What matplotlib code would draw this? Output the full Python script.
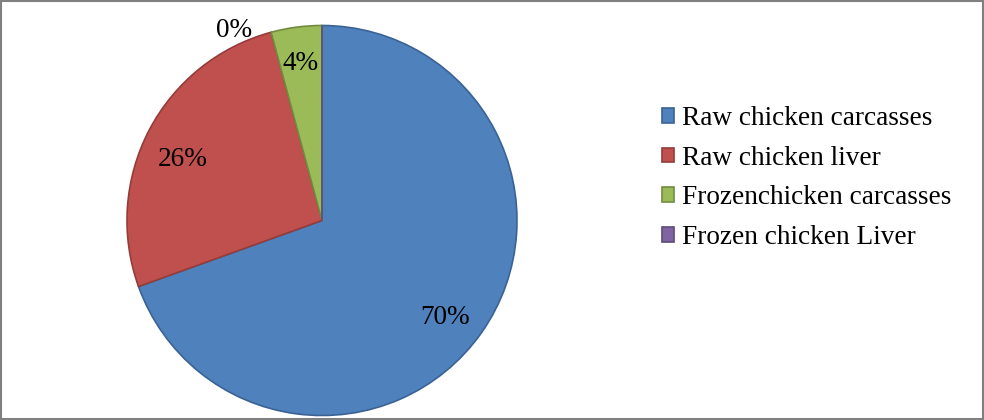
import matplotlib
matplotlib.use("Agg")
import matplotlib.pyplot as plt
from matplotlib.patches import Rectangle
import numpy as np

categories = ["Raw chicken carcasses", "Raw chicken liver", "Frozenchicken carcasses", "Frozen chicken Liver"]
values = [69.5, 26.3, 4.2, 0]
pct_labels = ["70%", "26%", "4%", "0%"]
fill_colors = ["#4F81BD", "#C0504D", "#9BBB59", "#8064A2"]
edge_colors = ["#3A6294", "#943C3A", "#718C40", "#5E4A7A"]

plt.rcParams['font.family'] = ['Liberation Serif', 'DejaVu Serif']

W, H = 984, 420
fig = plt.figure(figsize=(W / 100, H / 100), dpi=100)

cx, cy, r = 322, 220.5, 195
ax = fig.add_axes([(cx - r) / W, (H - cy - r) / H, 2 * r / W, 2 * r / H])
wedges, _ = ax.pie(values, startangle=90, counterclock=False, radius=1,
                   colors=fill_colors, wedgeprops=dict(linewidth=1.2))
for w, ec in zip(wedges, edge_colors):
    w.set_edgecolor(ec)
ax.set_xlim(-1, 1)
ax.set_ylim(-1, 1)
ax.set_aspect('equal')
ax.axis('off')

label_angle_shift = [-2.0, 2.5, 0.0, 0.0]
dists = [0.79, 0.79, 0.83, 1.09]
for w, d, v, lab, sh in zip(wedges, dists, values, pct_labels, label_angle_shift):
    ang = np.deg2rad((w.theta1 + w.theta2) / 2 + sh)
    if v == 0:
        ang = np.deg2rad(114.4)
    ax.text(d * np.cos(ang), d * np.sin(ang) - 0.02, lab,
            ha='center', va='center', fontsize=19.6, color='black')

handles = [Rectangle((0, 0), 1, 1, facecolor=fc, edgecolor=ec, linewidth=1.2)
           for fc, ec in zip(fill_colors, edge_colors)]
fig.legend(handles, categories, loc='center left', bbox_to_anchor=(662 / W, 1 - 178 / H),
           frameon=False, fontsize=19.6, handlelength=0.45, handleheight=0.45,
           handletextpad=0.3, labelspacing=0.54, borderpad=0, borderaxespad=0)

fig.add_artist(Rectangle((0.001, 0.002), 0.998, 0.996, transform=fig.transFigure,
                         fill=False, edgecolor='#808080', linewidth=1.5))

fig.savefig("out.png", dpi=100)
